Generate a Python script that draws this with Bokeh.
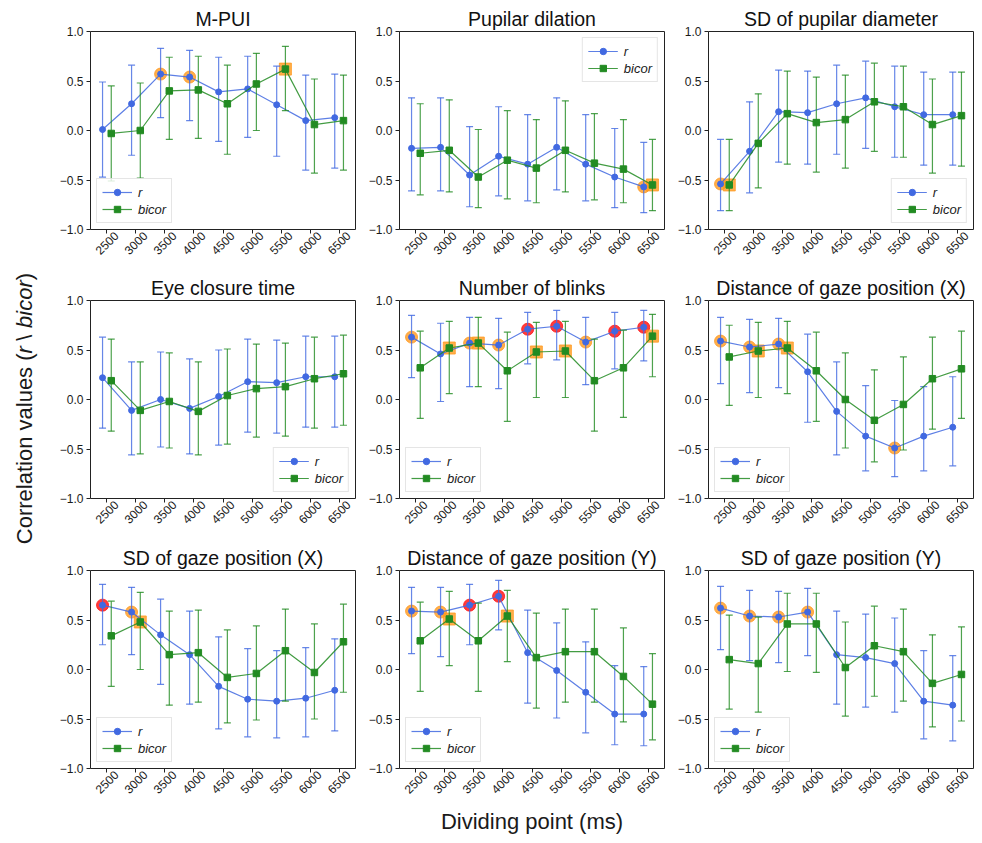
import math
from bokeh.plotting import figure
from bokeh.layouts import gridplot, row
from bokeh.models import (Range1d, FixedTicker, CustomJSTickFormatter, Legend, LegendItem,
                          ColumnDataSource, LinearAxis)
from bokeh.core.properties import value
from bokeh.embed import file_html
from bokeh.resources import INLINE

FONT = "Liberation Sans"

dividing_points = [2500, 3000, 3500, 4000, 4500, 5000, 5500, 6000, 6500]
tick_labels = ["2500", "3000", "3500", "4000", "4500", "5000", "5500", "6000", "6500"]
y_ticks = [-1.0, -0.5, 0.0, 0.5, 1.0]
series_names = ["r", "bicor"]

# ---- M-PUI
mpui_r = [0.01, 0.27, 0.57, 0.54, 0.39, 0.42, 0.26, 0.10, 0.13]
mpui_r_hi = [0.49, 0.66, 0.83, 0.81, 0.74, 0.75, 0.65, 0.56, 0.57]
mpui_r_lo = [-0.47, -0.25, 0.13, 0.10, -0.11, -0.07, -0.26, -0.40, -0.38]
mpui_b = [-0.03, 0.00, 0.40, 0.41, 0.27, 0.47, 0.62, 0.06, 0.10]
mpui_b_hi = [0.45, 0.48, 0.74, 0.75, 0.66, 0.78, 0.85, 0.52, 0.56]
mpui_b_lo = [-0.51, -0.48, -0.09, -0.08, -0.24, 0.00, 0.20, -0.43, -0.40]
mpui_r_orange = [3500, 4000]
mpui_r_red = []
mpui_b_orange = [5500]

# ---- Pupilar dilation
pd_r = [-0.18, -0.17, -0.45, -0.26, -0.34, -0.17, -0.34, -0.47, -0.57]
pd_r_hi = [0.33, 0.33, 0.04, 0.24, 0.16, 0.33, 0.16, 0.02, -0.12]
pd_r_lo = [-0.61, -0.61, -0.77, -0.66, -0.71, -0.60, -0.71, -0.78, -0.83]
pd_b = [-0.23, -0.20, -0.47, -0.30, -0.38, -0.20, -0.33, -0.39, -0.55]
pd_b_hi = [0.27, 0.31, 0.01, 0.20, 0.11, 0.30, 0.17, 0.11, -0.09]
pd_b_lo = [-0.65, -0.62, -0.78, -0.69, -0.73, -0.62, -0.70, -0.73, -0.81]
pd_r_orange = [6500]
pd_r_red = []
pd_b_orange = [6500]

# ---- SD of pupilar diameter
sdp_r = [-0.54, -0.21, 0.19, 0.18, 0.27, 0.33, 0.24, 0.16, 0.16]
sdp_r_hi = [-0.09, 0.29, 0.61, 0.60, 0.66, 0.70, 0.65, 0.59, 0.59]
sdp_r_lo = [-0.81, -0.63, -0.32, -0.34, -0.24, -0.18, -0.27, -0.35, -0.35]
sdp_b = [-0.55, -0.13, 0.17, 0.08, 0.11, 0.29, 0.24, 0.06, 0.15]
sdp_b_hi = [-0.09, 0.37, 0.60, 0.54, 0.56, 0.68, 0.65, 0.52, 0.59]
sdp_b_lo = [-0.81, -0.58, -0.34, -0.42, -0.38, -0.21, -0.27, -0.43, -0.36]
sdp_r_orange = [2500]
sdp_r_red = []
sdp_b_orange = [2500]

# ---- Eye closure time
ect_r = [0.22, -0.11, 0.00, -0.09, 0.03, 0.18, 0.17, 0.23, 0.23]
ect_r_hi = [0.63, 0.38, 0.48, 0.41, 0.50, 0.61, 0.60, 0.64, 0.64]
ect_r_lo = [-0.29, -0.56, -0.48, -0.55, -0.46, -0.33, -0.34, -0.28, -0.28]
ect_b = [0.19, -0.11, -0.02, -0.12, 0.04, 0.11, 0.13, 0.21, 0.26]
ect_b_hi = [0.61, 0.38, 0.47, 0.38, 0.51, 0.56, 0.57, 0.63, 0.65]
ect_b_lo = [-0.32, -0.55, -0.49, -0.56, -0.45, -0.38, -0.37, -0.29, -0.26]
ect_r_orange = []
ect_r_red = []
ect_b_orange = []

# ---- Number of blinks
nb_r = [0.63, 0.46, 0.57, 0.55, 0.71, 0.74, 0.58, 0.69, 0.73]
nb_r_hi = [0.85, 0.77, 0.83, 0.82, 0.88, 0.90, 0.83, 0.88, 0.90]
nb_r_lo = [0.22, -0.02, 0.13, 0.11, 0.36, 0.40, 0.15, 0.31, 0.39]
nb_b = [0.32, 0.52, 0.57, 0.29, 0.48, 0.49, 0.19, 0.32, 0.64]
nb_b_hi = [0.69, 0.79, 0.83, 0.68, 0.78, 0.79, 0.61, 0.70, 0.86]
nb_b_lo = [-0.19, 0.06, 0.13, -0.22, 0.02, 0.02, -0.32, -0.18, 0.23]
nb_r_orange = [2500, 3500, 4000, 5500]
nb_r_red = [4500, 5000, 6000, 6500]
nb_b_orange = [3000, 3500, 4500, 5000, 6500]

# ---- Distance of gaze position (X)
dgx_r = [0.59, 0.53, 0.56, 0.28, -0.12, -0.37, -0.49, -0.37, -0.28]
dgx_r_hi = [0.83, 0.81, 0.82, 0.66, 0.38, 0.14, -0.01, 0.13, 0.23]
dgx_r_lo = [0.16, 0.07, 0.12, -0.23, -0.56, -0.72, -0.78, -0.72, -0.67]
dgx_b = [0.43, 0.49, 0.52, 0.29, 0.00, -0.21, -0.05, 0.21, 0.31]
dgx_b_hi = [0.75, 0.78, 0.79, 0.68, 0.47, 0.30, 0.43, 0.63, 0.69]
dgx_b_lo = [-0.06, 0.02, 0.06, -0.22, -0.49, -0.63, -0.51, -0.30, -0.19]
dgx_r_orange = [2500, 3000, 3500, 5500]
dgx_r_red = []
dgx_b_orange = [3000, 3500]

# ---- SD of gaze position (X)
sgx_r = [0.65, 0.58, 0.35, 0.15, -0.17, -0.30, -0.32, -0.29, -0.21]
sgx_r_hi = [0.86, 0.83, 0.71, 0.59, 0.33, 0.21, 0.19, 0.22, 0.31]
sgx_r_lo = [0.25, 0.15, -0.15, -0.35, -0.60, -0.68, -0.69, -0.68, -0.62]
sgx_b = [0.34, 0.48, 0.15, 0.17, -0.08, -0.04, 0.19, -0.03, 0.28]
sgx_b_hi = [0.69, 0.78, 0.59, 0.60, 0.40, 0.44, 0.61, 0.46, 0.66]
sgx_b_lo = [-0.17, 0.00, -0.36, -0.33, -0.54, -0.51, -0.32, -0.50, -0.23]
sgx_r_orange = [3000]
sgx_r_red = [2500]
sgx_b_orange = [3000]

# ---- Distance of gaze position (Y)
dgy_r = [0.59, 0.58, 0.65, 0.74, 0.17, -0.01, -0.23, -0.45, -0.45]
dgy_r_hi = [0.83, 0.83, 0.86, 0.90, 0.60, 0.47, 0.28, 0.04, 0.03]
dgy_r_lo = [0.16, 0.13, 0.25, 0.40, -0.34, -0.49, -0.64, -0.76, -0.77]
dgy_b = [0.29, 0.51, 0.29, 0.54, 0.12, 0.18, 0.18, -0.07, -0.35]
dgy_b_hi = [0.68, 0.79, 0.67, 0.80, 0.57, 0.61, 0.61, 0.42, 0.16]
dgy_b_lo = [-0.22, 0.04, -0.22, 0.08, -0.39, -0.33, -0.33, -0.53, -0.71]
dgy_r_orange = [2500, 3000]
dgy_r_red = [3500, 4000]
dgy_b_orange = [3000, 4000]

# ---- SD of gaze position (Y)
sgy_r = [0.62, 0.54, 0.53, 0.58, 0.15, 0.12, 0.06, -0.32, -0.36]
sgy_r_hi = [0.84, 0.80, 0.79, 0.82, 0.59, 0.56, 0.52, 0.19, 0.14]
sgy_r_lo = [0.20, 0.09, 0.07, 0.14, -0.35, -0.38, -0.43, -0.70, -0.72]
sgy_b = [0.10, 0.06, 0.46, 0.46, 0.02, 0.24, 0.18, -0.14, -0.05]
sgy_b_hi = [0.55, 0.53, 0.77, 0.77, 0.48, 0.64, 0.61, 0.35, 0.43]
sgy_b_lo = [-0.40, -0.43, -0.02, -0.03, -0.47, -0.27, -0.32, -0.58, -0.52]
sgy_r_orange = [2500, 3000, 3500, 4000]
sgy_r_red = []
sgy_b_orange = []

panels = [
    ("M-PUI", mpui_r, mpui_r_lo, mpui_r_hi, mpui_b, mpui_b_lo, mpui_b_hi, mpui_r_orange, mpui_r_red, mpui_b_orange, "bottom_left"),
    ("Pupilar dilation", pd_r, pd_r_lo, pd_r_hi, pd_b, pd_b_lo, pd_b_hi, pd_r_orange, pd_r_red, pd_b_orange, "top_right"),
    ("SD of pupilar diameter", sdp_r, sdp_r_lo, sdp_r_hi, sdp_b, sdp_b_lo, sdp_b_hi, sdp_r_orange, sdp_r_red, sdp_b_orange, "bottom_right"),
    ("Eye closure time", ect_r, ect_r_lo, ect_r_hi, ect_b, ect_b_lo, ect_b_hi, ect_r_orange, ect_r_red, ect_b_orange, "bottom_right"),
    ("Number of blinks", nb_r, nb_r_lo, nb_r_hi, nb_b, nb_b_lo, nb_b_hi, nb_r_orange, nb_r_red, nb_b_orange, "bottom_left"),
    ("Distance of gaze position (X)", dgx_r, dgx_r_lo, dgx_r_hi, dgx_b, dgx_b_lo, dgx_b_hi, dgx_r_orange, dgx_r_red, dgx_b_orange, "bottom_left"),
    ("SD of gaze position (X)", sgx_r, sgx_r_lo, sgx_r_hi, sgx_b, sgx_b_lo, sgx_b_hi, sgx_r_orange, sgx_r_red, sgx_b_orange, "bottom_left"),
    ("Distance of gaze position (Y)", dgy_r, dgy_r_lo, dgy_r_hi, dgy_b, dgy_b_lo, dgy_b_hi, dgy_r_orange, dgy_r_red, dgy_b_orange, "bottom_left"),
    ("SD of gaze position (Y)", sgy_r, sgy_r_lo, sgy_r_hi, sgy_b, sgy_b_lo, sgy_b_hi, sgy_r_orange, sgy_r_red, sgy_b_orange, "bottom_left"),
]
x_title = "Dividing point (ms)"

BLUE = "#4169e1"
GREEN = "#228b22"
ORANGE = "#ff9a1f"
RED = "#ff1a1a"
OFFSET = 75          # horizontal dodge of the two series (data units)
LABEL_SHIFT = 160    # shifts the rotated tick labels so they sit centred under the ticks
TEXT = "#1a1a1a"

FRAME_W = 265
FRAME_H = 198
LEFT_B = 43
RIGHT_B = 1
TOP_B = 31
BOTTOMS = [40, 41, 66]
YLAB_W = 47
TOTAL_H = sum(TOP_B + FRAME_H + b for b in BOTTOMS)


def pick(ys, chosen):
    return [ys[dividing_points.index(c)] for c in chosen]


def make_panel(idx, spec):
    (title, r, r_lo, r_hi, b, b_lo, b_hi, r_or, r_red, b_or, loc) = spec
    bottom = BOTTOMS[idx // 3]
    p = figure(frame_width=FRAME_W, frame_height=FRAME_H,
               x_range=Range1d(2217.5, 6782.5), y_range=Range1d(-1, 1),
               output_backend="svg", toolbar_location=None,
               min_border_left=LEFT_B, min_border_right=RIGHT_B, min_border_top=TOP_B,
               min_border_bottom=bottom, title=title)
    p.title.align = "center"
    p.title.text_font = FONT
    p.title.text_font_size = "19.5px"
    p.title.text_font_style = "normal"
    p.title.text_color = "#111111"
    p.title.standoff = 4
    p.xgrid.visible = False
    p.ygrid.visible = False
    p.outline_line_color = "#222222"
    p.outline_line_width = 1
    p.outline_line_alpha = 1

    for ax in (p.xaxis[0], p.yaxis[0]):
        ax.axis_line_color = None
        ax.major_tick_out = 4
        ax.major_tick_in = 0
        ax.minor_tick_out = 0
        ax.minor_tick_in = 0
        ax.major_tick_line_color = "#222222"
        ax.major_label_text_font = FONT
        ax.major_label_text_font_size = "12px"
        ax.major_label_text_color = TEXT
        ax.major_label_standoff = 3
    # tick marks on the main x axis; its labels are drawn by a second axis below
    xa = p.xaxis[0]
    xa.ticker = FixedTicker(ticks=dividing_points)
    xa.formatter = CustomJSTickFormatter(code="return '';")
    xa.major_label_text_font_size = "0px"
    xa.major_label_standoff = 0
    p.yaxis.ticker = FixedTicker(ticks=y_ticks)
    p.yaxis.formatter = CustomJSTickFormatter(
        code="return (tick < 0 ? '\\u2212' : '') + Math.abs(tick).toFixed(1);")

    shifted = [d + LABEL_SHIFT for d in dividing_points]
    lab_axis = LinearAxis(
        ticker=FixedTicker(ticks=shifted),
        formatter=CustomJSTickFormatter(
            args=dict(pos=shifted, labs=tick_labels),
            code="const i = pos.indexOf(tick); return i >= 0 ? labs[i] : '';"),
        major_label_orientation=math.pi / 4, major_label_standoff=0,
        major_tick_out=0, major_tick_in=0, minor_tick_out=0, minor_tick_in=0,
        axis_line_color=None, major_label_text_font=FONT,
        major_label_text_font_size="12px", major_label_text_color=TEXT)
    if idx == 7:
        lab_axis.axis_label = x_title
        lab_axis.axis_label_text_font = FONT
        lab_axis.axis_label_text_font_size = "22px"
        lab_axis.axis_label_text_font_style = "normal"
        lab_axis.axis_label_text_color = TEXT
        lab_axis.axis_label_standoff = 8
    p.add_layout(lab_axis, "below")

    xr = [d - OFFSET for d in dividing_points]
    xb = [d + OFFSET for d in dividing_points]

    # highlighted points
    if r_or:
        p.scatter([c - OFFSET for c in r_or], pick(r, r_or), marker="circle", size=12,
                  fill_color=ORANGE, line_color=ORANGE, fill_alpha=0.8, line_alpha=0.8)
    if r_red:
        p.scatter([c - OFFSET for c in r_red], pick(r, r_red), marker="circle", size=12,
                  fill_color=RED, line_color=RED, fill_alpha=0.85, line_alpha=0.85)
    if b_or:
        p.scatter([c + OFFSET for c in b_or], pick(b, b_or), marker="square", size=12,
                  fill_color=ORANGE, line_color=ORANGE, fill_alpha=0.8, line_alpha=0.8)

    rends = []
    for xs, ys, lo, hi, color, marker, msize in (
            (xr, r, r_lo, r_hi, BLUE, "circle", 6),
            (xb, b, b_lo, b_hi, GREEN, "square", 6.5)):
        src = ColumnDataSource(dict(x=xs, y=ys, lo=lo, hi=hi))
        p.segment(x0="x", y0="lo", x1="x", y1="hi", source=src,
                  line_color=color, line_alpha=0.8, line_width=1.2)
        p.scatter("x", "lo", source=src, marker="dash", size=7,
                  line_color=color, line_alpha=0.8, line_width=1.2)
        p.scatter("x", "hi", source=src, marker="dash", size=7,
                  line_color=color, line_alpha=0.8, line_width=1.2)
        ln = p.line("x", "y", source=src, line_color=color, line_alpha=0.85, line_width=1.2)
        mk = p.scatter("x", "y", source=src, marker=marker, size=msize,
                       fill_color=color, line_color=color)
        rends.append((ln, mk))

    legend = Legend(items=[LegendItem(label=series_names[0], renderers=list(rends[0])),
                           LegendItem(label=series_names[1], renderers=list(rends[1]))],
                    location=loc, margin=6, padding=5, spacing=1,
                    glyph_width=30, glyph_height=16, label_height=16, label_standoff=6,
                    label_text_font=FONT, label_text_font_size="13px",
                    label_text_font_style="italic", label_text_color=TEXT,
                    border_line_color="#cccccc", border_line_width=1,
                    background_fill_color="white", background_fill_alpha=0.8)
    p.add_layout(legend)
    return p


figs = [make_panel(i, s) for i, s in enumerate(panels)]
grid = gridplot([figs[0:3], figs[3:6], figs[6:9]], toolbar_location=None)

# shared y label (r and bicor in italics)
ylab = figure(width=YLAB_W, height=TOTAL_H, x_range=Range1d(0, YLAB_W), y_range=Range1d(0, TOTAL_H),
              min_border=0, toolbar_location=None, output_backend="svg",
              x_axis_location=None, y_axis_location=None, outline_line_color=None)
ylab.grid.visible = False
y_parts = ["Correlation values (", "r", "\\", "bicor", ")"]
y_styles = ["normal", "italic", "normal", "italic", "normal"]
y_offsets = [0, 190.7, 203.5, 216.3, 264.0]
centre = TOTAL_H - 408
start = centre - 135.7
for part, sty, off in zip(y_parts, y_styles, y_offsets):
    ylab.text(x=[24], y=[start + off], text=[part], angle=math.pi / 2,
              text_align="left", text_baseline="middle", text_font=value(FONT),
              text_font_size="22px", text_font_style=sty, text_color=TEXT)

layout = row(ylab, grid)
open("out.html", "w").write(file_html(layout, INLINE))
